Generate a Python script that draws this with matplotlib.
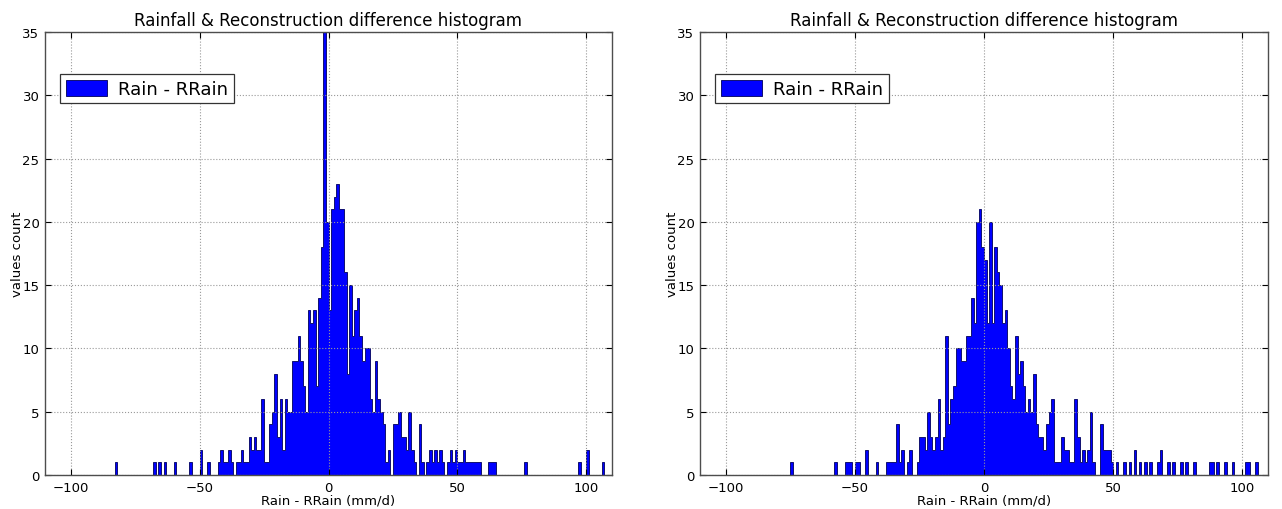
import numpy as np
import matplotlib
matplotlib.use('Agg')
import matplotlib.pyplot as plt

# histogram bins (left edge of 1 mm/d wide bins) and counts
left_bins = [-83, -68, -66, -64, -60, -54, -50, -47, -43, -42, -41, -40, -39, -38,
             -36, -35, -34, -33, -32, -31, -30, -29, -28, -27, -26, -25, -24, -23,
             -22, -21, -20, -19, -18, -17, -16, -15, -14, -13, -12, -11, -10, -9,
             -8, -7, -6, -5, -4, -3, -2, -1, 0, 1, 2, 3, 4, 5, 6, 7, 8, 9, 10, 11,
             12, 13, 14, 15, 16, 17, 18, 19, 20, 21, 22, 23, 25, 26, 27, 28, 29, 30,
             31, 32, 33, 35, 36, 38, 39, 40, 41, 42, 43, 44, 46, 47, 48, 49, 50, 51,
             52, 53, 54, 55, 56, 57, 58, 62, 63, 64, 76, 97, 100, 106]
left_counts = [1, 1, 1, 1, 1, 1, 2, 1, 1, 2, 1, 1, 2, 1,
               1, 1, 2, 1, 1, 3, 2, 3, 2, 2, 6, 1, 1, 4,
               5, 8, 3, 6, 2, 6, 5, 5, 9, 9, 11, 9, 7, 5,
               13, 12, 13, 7, 14, 18, 60, 20, 13, 21, 22, 23, 21, 21, 16, 8, 15, 11, 13, 14,
               11, 9, 10, 10, 6, 5, 9, 6, 5, 4, 1, 2, 4, 4, 5, 3, 3, 2,
               5, 2, 1, 4, 1, 1, 2, 1, 2, 1, 2, 1, 1, 2, 1, 2, 1, 1,
               2, 1, 1, 1, 1, 1, 1, 1, 1, 1, 1, 1, 2, 1]

right_bins = [-75, -58, -54, -53, -52, -50, -49, -46, -42, -38, -37, -36, -35, -34,
              -33, -32, -30, -29, -26, -25, -24, -23, -22, -21, -20, -19, -18, -17,
              -16, -15, -14, -13, -12, -11, -10, -9, -8, -7, -6, -5, -4, -3, -2, -1,
              0, 1, 2, 3, 4, 5, 6, 7, 8, 9, 10, 11, 12, 13, 14, 15, 16, 17, 18, 19,
              20, 21, 22, 23, 24, 25, 26, 27, 28, 29, 30, 31, 32, 33, 34, 35, 36, 37,
              38, 39, 40, 41, 42, 45, 46, 47, 48, 49, 51, 54, 56, 58, 60, 62, 64, 67,
              68, 71, 73, 76, 78, 81, 87, 88, 90, 93, 96, 101, 102, 105]
right_counts = [1, 1, 1, 1, 1, 1, 1, 2, 1, 1, 1, 1, 1, 4,
                1, 2, 1, 2, 1, 3, 3, 2, 5, 3, 2, 3, 6, 2,
                3, 11, 4, 6, 7, 10, 10, 9, 9, 11, 11, 14, 12, 20, 21, 18,
                17, 12, 20, 12, 18, 16, 15, 12, 13, 10, 7, 6, 11, 8, 9, 7, 5, 6, 5, 8,
                4, 3, 3, 2, 4, 5, 6, 1, 1, 1, 3, 2, 2, 1, 1, 6, 3, 1,
                2, 1, 2, 5, 1, 4, 2, 2, 2, 1, 1, 1, 1, 2, 1, 1, 1, 1,
                2, 1, 1, 1, 1, 1, 1, 1, 1, 1, 1, 1, 1, 1]

title = "Rainfall & Reconstruction difference histogram"
label = "Rain - RRain"

fig = plt.figure(figsize=(12.82, 5.10), dpi=100)
W, H = 1282.0, 510.0
ax_left = fig.add_axes([45 / W, 34 / H, 567 / W, 443 / H])
ax_right = fig.add_axes([700 / W, 34 / H, 568 / W, 443 / H])

edges = np.arange(-120, 121)
for ax, bins, counts in [(ax_left, left_bins, left_counts), (ax_right, right_bins, right_counts)]:
    ax.hist(bins, bins=edges, weights=counts, histtype='stepfilled', facecolor=(0, 0, 1),
            edgecolor='#101070', linewidth=0.7, label=label)
    ax.set_xlim(-110, 110)
    ax.set_ylim(0, 35)
    ax.set_xticks([-100, -50, 0, 50, 100])
    ax.set_yticks(np.arange(0, 36, 5))
    ax.grid(True, color='0.6', linestyle=':', linewidth=0.8)
    ax.tick_params(direction='in', top=True, right=True, labelsize=9.5, length=4, pad=4)
    for s in ax.spines.values():
        s.set_color('0.3')
        s.set_linewidth(1.0)
    ax.set_title(title, fontsize=12, pad=5)
    ax.set_xlabel("Rain - RRain (mm/d)", fontsize=9.5, labelpad=0)
    ax.set_ylabel("values count", fontsize=9.5, labelpad=-1)
    leg = ax.legend(loc='upper left', bbox_to_anchor=(0.027, 0.905), fontsize=13,
                    fancybox=False, framealpha=1, handlelength=2.3, handleheight=1.0,
                    handletextpad=0.6, borderpad=0.3, borderaxespad=0.0)
    leg.get_frame().set_edgecolor('0.2')
    leg.get_frame().set_linewidth(0.9)

plt.savefig("out.png", dpi=100)
